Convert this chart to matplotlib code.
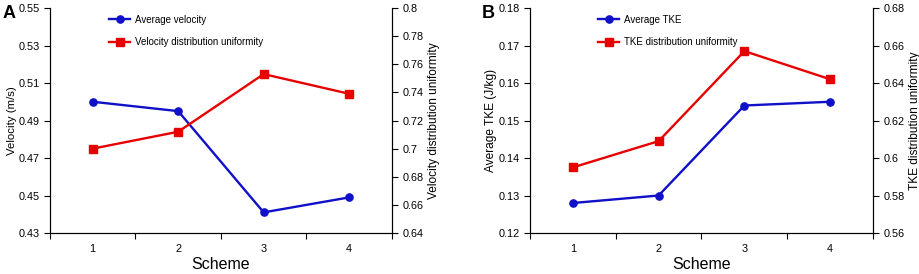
import matplotlib
matplotlib.use("Agg")
import matplotlib.pyplot as plt
from matplotlib.ticker import FixedLocator, NullFormatter

plt.rcParams['font.family'] = ['Liberation Sans', 'DejaVu Sans']

schemes = [1, 2, 3, 4]
avg_velocity = [0.500, 0.495, 0.441, 0.449]
velocity_uniformity = [0.700, 0.712, 0.753, 0.739]
avg_tke = [0.128, 0.130, 0.154, 0.155]
tke_uniformity = [0.595, 0.609, 0.657, 0.642]

vel_ticks = [0.43, 0.45, 0.47, 0.49, 0.51, 0.53, 0.55]
vel_unif_ticks = [0.64, 0.66, 0.68, 0.7, 0.72, 0.74, 0.76, 0.78, 0.8]
tke_ticks = [0.12, 0.13, 0.14, 0.15, 0.16, 0.17, 0.18]
tke_unif_ticks = [0.56, 0.58, 0.6, 0.62, 0.64, 0.66, 0.68]

BLUE = '#1010c8'
RED = '#e60000'


def fmt(v):
    s = ('%.2f' % v).rstrip('0').rstrip('.')
    return s


def panel(fig, rect, letter, left_vals, right_vals, left_ticks, right_ticks,
          left_label, right_label, blue_name, red_name, leg_x, label_size):
    ax = fig.add_axes(rect)
    ax2 = ax.twinx()
    ax.plot(schemes, left_vals, color=BLUE, lw=1.7, marker='o', ms=5.2, label=blue_name)
    ax2.plot(schemes, right_vals, color=RED, lw=1.7, marker='s', ms=5.8, label=red_name)

    ax.set_xlim(0.5, 4.5)
    ax.set_ylim(left_ticks[0], left_ticks[-1])
    ax2.set_ylim(right_ticks[0], right_ticks[-1])
    ax.set_yticks(left_ticks)
    ax.set_yticklabels([fmt(t) for t in left_ticks])
    ax2.set_yticks(right_ticks)
    ax2.set_yticklabels([fmt(t) for t in right_ticks])

    ax.set_xticks(schemes)
    ax.set_xticklabels([str(s) for s in schemes])
    ax.tick_params(axis='x', which='major', length=0, pad=8, labelsize=7.8)
    ax.xaxis.set_minor_locator(FixedLocator([0.5, 1.5, 2.5, 3.5, 4.5]))
    ax.xaxis.set_minor_formatter(NullFormatter())
    ax.tick_params(axis='x', which='minor', length=4, direction='out', width=0.8)
    ax.tick_params(axis='y', length=4, width=0.8, labelsize=7.8)
    ax2.tick_params(axis='y', length=4, width=0.8, labelsize=7.8)

    for a in (ax, ax2):
        a.spines['top'].set_visible(False)
        for s in ('left', 'right', 'bottom'):
            a.spines[s].set_linewidth(0.8)

    ax.set_xlabel('Scheme', fontsize=11.5, labelpad=2)
    ax.set_ylabel(left_label, fontsize=label_size, labelpad=1)
    ax2.set_ylabel(right_label, fontsize=8.6, labelpad=3)

    h1, l1 = ax.get_legend_handles_labels()
    h2, l2 = ax2.get_legend_handles_labels()
    ax2.legend(h1 + h2, l1 + l2, loc='upper left', bbox_to_anchor=(leg_x, 1.005),
               frameon=False, fontsize=7, labelspacing=1.3, handlelength=2.2,
               handletextpad=0.5, borderpad=0.3)

    ax.text(-0.14, 0.975, letter, transform=ax.transAxes, fontsize=13,
            fontweight='bold', va='center', ha='left')
    return ax


fig = plt.figure(figsize=(9.2, 2.74), dpi=100)
panel(fig, [0.0543, 0.1496, 0.3717, 0.8212], 'A', avg_velocity, velocity_uniformity,
      vel_ticks, vel_unif_ticks, 'Velocity (m/s)', 'Velocity distribution uniformity',
      'Average velocity', 'Velocity distribution uniformity', 0.15, 8.2)
panel(fig, [0.5761, 0.1496, 0.3728, 0.8212], 'B', avg_tke, tke_uniformity,
      tke_ticks, tke_unif_ticks, 'Average TKE (J/kg)', 'TKE distribution uniformity',
      'Average TKE', 'TKE distribution uniformity', 0.175, 8.6)

fig.savefig('out.png', dpi=100)
